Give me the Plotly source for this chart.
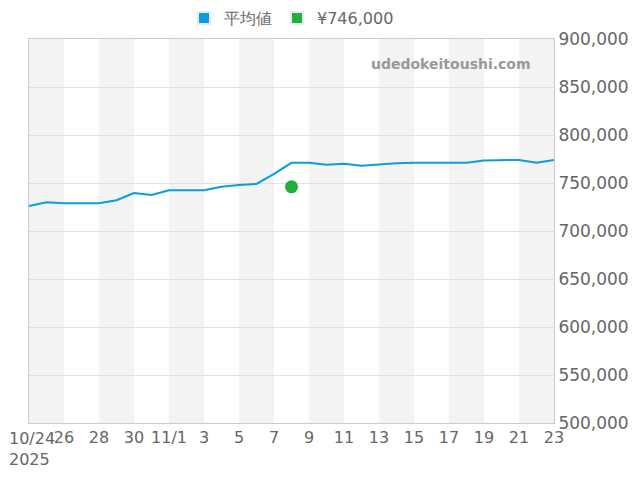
import plotly.graph_objects as go
import pandas as pd

dates = pd.date_range("2025-10-24", "2025-11-23").strftime("%Y-%m-%d").tolist()
avg = [726000, 730000, 729000, 729000, 729000, 732000, 739500, 737500, 742500, 742500,
       742500, 746000, 748000, 749000, 759500, 771000, 771000, 769000, 770000, 768000,
       769500, 770500, 771000, 771000, 771000, 771000, 773500, 773500, 774000, 771000, 774000]
point_date = ["2025-11-08"]
point_val = [746000]
tick_vals = dates[::2]
tick_text = ["", "26", "28", "30", "11/1", "3", "5", "7", "9", "11", "13",
             "15", "17", "19", "21", "23"]
first_label = "10/24<br>2025"
line_color = "#0a9de0"
pt_color = "#22b03a"

fig = go.Figure()
fig.add_trace(go.Scatter(x=dates, y=avg, mode="lines", showlegend=False,
                         line=dict(color=line_color, width=2)))
fig.add_trace(go.Scatter(x=point_date, y=point_val, mode="markers", showlegend=False,
                         marker=dict(color=pt_color, size=13)))
fig.add_trace(go.Bar(x=[None], y=[None], name="平均値", marker_color=line_color))
fig.add_trace(go.Bar(x=[None], y=[None], name="¥746,000", marker_color=pt_color))
for i in range(0, len(dates) - 1, 4):
    fig.add_shape(type="rect", xref="x", yref="paper", x0=dates[i], x1=dates[i + 2],
                  y0=0, y1=1, fillcolor="#f3f3f3", line_width=0, layer="below")
fig.add_annotation(text="<b>udedokeitoushi.com</b>", xref="paper", yref="paper", x=0.96, y=0.935,
                   xanchor="right", yanchor="middle", showarrow=False,
                   font=dict(size=14, color="#999", family="DejaVu Sans"))
fig.add_annotation(text=first_label, xref="x", yref="paper", x=dates[0], y=0, yshift=-4,
                   xshift=3, xanchor="center", yanchor="top", showarrow=False, align="left",
                   font=dict(size=16, color="#666"))
fig.update_layout(
    width=640, height=480, plot_bgcolor="white", paper_bgcolor="white",
    margin=dict(l=21, r=94, t=31, b=65, autoexpand=False),
    font=dict(family="DejaVu Sans", size=16, color="#666"),
    legend=dict(orientation="h", x=0.5, xanchor="center", y=1.01, yanchor="bottom",
                font=dict(size=16), itemsizing="constant"),
)
fig.update_xaxes(range=[dates[0], dates[-1]], tickvals=tick_vals, ticktext=tick_text,
                 showgrid=False, showline=True, linecolor="#ccc", mirror=True,
                 tickangle=0, ticks="", automargin=False)
fig.update_yaxes(range=[500000, 900000], side="right", dtick=50000, tickformat=",",
                 gridcolor="#e0e0e0", showline=True, linecolor="#ccc", mirror=True,
                 automargin=False, tickfont=dict(size=17))
fig.write_html("out.html")
